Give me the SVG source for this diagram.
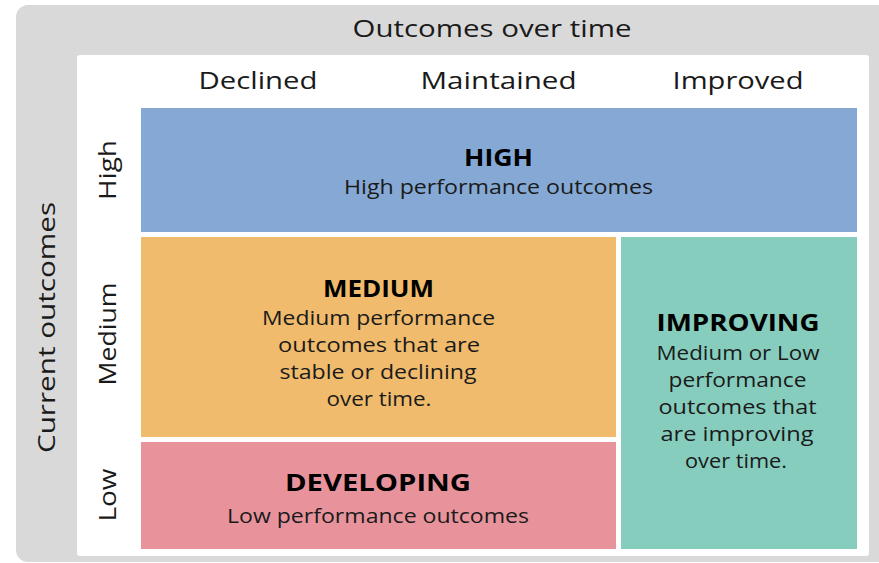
<svg xmlns="http://www.w3.org/2000/svg" width="879" height="563" viewBox="0 0 879 563">
  <style>
    text { font-family: "Open Sans", "Noto Sans", "Liberation Sans", sans-serif; fill: #1a1a1a; text-anchor: middle; }
    .axis { font-size: 24px; }
    .head { font-size: 23px; font-weight: 700; fill: #000; }
    .body { font-size: 19.5px; }
  </style>
  <rect x="16" y="5" width="880" height="557" rx="12" fill="#D9D9D9"/>
  <rect x="77" y="55" width="792" height="501" rx="3" fill="#FFFFFF"/>

  <g id="axis-labels">
    <text class="axis" x="492" y="37" textLength="279" lengthAdjust="spacingAndGlyphs">Outcomes over time</text>
    <text class="axis" x="258" y="89" textLength="119" lengthAdjust="spacingAndGlyphs">Declined</text>
    <text class="axis" x="498.5" y="89" textLength="156" lengthAdjust="spacingAndGlyphs">Maintained</text>
    <text class="axis" x="738" y="89" textLength="131" lengthAdjust="spacingAndGlyphs">Improved</text>
    <text class="axis" transform="translate(55 327.5) rotate(-90)" textLength="251" lengthAdjust="spacingAndGlyphs">Current outcomes</text>
    <text class="axis" transform="translate(116 170) rotate(-90)" textLength="60" lengthAdjust="spacingAndGlyphs">High</text>
    <text class="axis" transform="translate(116 334) rotate(-90)" textLength="103" lengthAdjust="spacingAndGlyphs">Medium</text>
    <text class="axis" transform="translate(116 495) rotate(-90)" textLength="53" lengthAdjust="spacingAndGlyphs">Low</text>
  </g>

  <g id="high">
    <rect x="141" y="108" width="716" height="124" fill="#85A9D4"/>
    <text class="head" x="498.5" y="165.5" textLength="69" lengthAdjust="spacingAndGlyphs">HIGH</text>
    <text class="body" x="498.5" y="194" textLength="309" lengthAdjust="spacingAndGlyphs">High performance outcomes</text>
  </g>

  <g id="medium">
    <rect x="141" y="237" width="475" height="200" fill="#F0BB6C"/>
    <text class="head" x="378.5" y="296.5" textLength="111" lengthAdjust="spacingAndGlyphs">MEDIUM</text>
    <text class="body" x="378.5" y="325" textLength="233" lengthAdjust="spacingAndGlyphs">Medium performance</text>
    <text class="body" x="379" y="352" textLength="202" lengthAdjust="spacingAndGlyphs">outcomes that are</text>
    <text class="body" x="378" y="379" textLength="197" lengthAdjust="spacingAndGlyphs">stable or declining</text>
    <text class="body" x="379" y="406" textLength="105" lengthAdjust="spacingAndGlyphs">over time.</text>
  </g>

  <g id="developing">
    <rect x="141" y="442" width="475" height="107" fill="#E8939C"/>
    <text class="head" x="378" y="491" textLength="186" lengthAdjust="spacingAndGlyphs">DEVELOPING</text>
    <text class="body" x="378" y="523" textLength="302" lengthAdjust="spacingAndGlyphs">Low performance outcomes</text>
  </g>

  <g id="improving">
    <rect x="621" y="237" width="236" height="312" fill="#86CDBE"/>
    <text class="head" x="738" y="331" textLength="163" lengthAdjust="spacingAndGlyphs">IMPROVING</text>
    <text class="body" x="738" y="360" textLength="163" lengthAdjust="spacingAndGlyphs">Medium or Low</text>
    <text class="body" x="737.5" y="387" textLength="138" lengthAdjust="spacingAndGlyphs">performance</text>
    <text class="body" x="737.5" y="414" textLength="158" lengthAdjust="spacingAndGlyphs">outcomes that</text>
    <text class="body" x="737" y="441" textLength="153" lengthAdjust="spacingAndGlyphs">are improving</text>
    <text class="body" x="736" y="468" textLength="102" lengthAdjust="spacingAndGlyphs">over time.</text>
  </g>
</svg>
